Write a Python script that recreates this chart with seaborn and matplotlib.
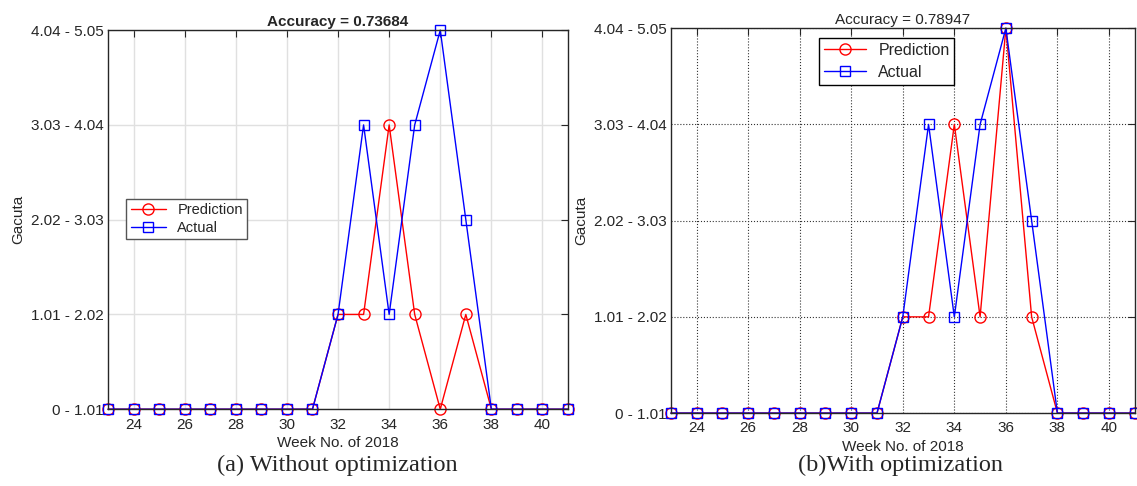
import matplotlib.pyplot as plt
import seaborn as sns

weeks = list(range(23, 42))
actual = [0, 0, 0, 0, 0, 0, 0, 0, 0, 1, 3, 1, 3, 4, 2, 0, 0, 0, 0]
pred_without = [0, 0, 0, 0, 0, 0, 0, 0, 0, 1, 1, 3, 1, 0, 1, 0, 0, 0, 0]
pred_with = [0, 0, 0, 0, 0, 0, 0, 0, 0, 1, 1, 3, 1, 4, 1, 0, 0, 0, 0]
y_labels = ['0 - 1.01', '1.01 - 2.02', '2.02 - 3.03', '3.03 - 4.04', '4.04 - 5.05']
x_ticks = list(range(24, 42, 2))

sns.set_style('white')
plt.rcParams['font.family'] = ['Liberation Sans', 'DejaVu Sans']

fig = plt.figure(figsize=(11.37, 4.86), dpi=100)
ax1 = fig.add_axes([0.095, 0.158, 0.4046, 0.780])
ax2 = fig.add_axes([0.590, 0.150, 0.408, 0.792])


def draw(ax, pred, title, bold, grid_style):
    sns.lineplot(x=weeks, y=pred, ax=ax, color='red', marker='o', lw=1, label='Prediction')
    sns.lineplot(x=weeks, y=actual, ax=ax, color='blue', marker='s', lw=1, label='Actual')
    for line, c, ms in zip(ax.lines, ['red', 'blue'], [8, 7]):
        line.set_markerfacecolor('none')
        line.set_markeredgecolor(c)
        line.set_markeredgewidth(1)
        line.set_markersize(ms)
        line.set_clip_on(False)
    ax.set_xlim(23, 41)
    ax.set_ylim(0, 4)
    ax.set_xticks(x_ticks)
    ax.set_yticks(range(5))
    ax.set_yticklabels(y_labels)
    ax.tick_params(direction='in', length=5, labelsize=11, top=True, right=True,
                   color='#262626')
    ax.tick_params(axis='x', pad=6)
    ax.tick_params(axis='y', pad=3)
    ax.set_xlabel('Week No. of 2018', fontsize=11, labelpad=3)
    ax.set_ylabel('Gacuta', fontsize=11)
    ax.set_title(title, fontsize=11, fontweight='bold' if bold else 'normal', pad=3)
    if grid_style == 'light':
        ax.grid(True, color='#e0e0e0', lw=1)
    else:
        ax.grid(True, color='#333333', ls=':', lw=0.8)
    for s in ax.spines.values():
        s.set_color('#262626')
        s.set_linewidth(1)
        s.set_visible(True)


draw(ax1, pred_without, 'Accuracy = 0.73684', True, 'light')
draw(ax2, pred_with, 'Accuracy = 0.78947', False, 'dotted')


def legend(ax, anchor, edge, hl, fs, sp):
    leg = ax.legend(loc='upper left', bbox_to_anchor=anchor, fontsize=fs,
                    fancybox=False, edgecolor=edge, framealpha=1, borderpad=0.3,
                    handlelength=hl, labelspacing=sp, borderaxespad=0)
    for h, c in zip(leg.legend_handles, ['red', 'blue']):
        h.set_markerfacecolor('none')
        h.set_markeredgecolor(c)


legend(ax1, (0.04, 0.555), '#555555', 2.4, 10.5, 0.25)
legend(ax2, (0.32, 0.975), 'black', 2.6, 11.5, 0.45)

fig.text(0.297, 0.03, '(a) Without optimization', ha='center', fontsize=17.5,
         family=['Liberation Serif', 'DejaVu Serif'])
fig.text(0.792, 0.03, '(b)With optimization', ha='center', fontsize=17.5,
         family=['Liberation Serif', 'DejaVu Serif'])

fig.savefig('out.png', dpi=100)
